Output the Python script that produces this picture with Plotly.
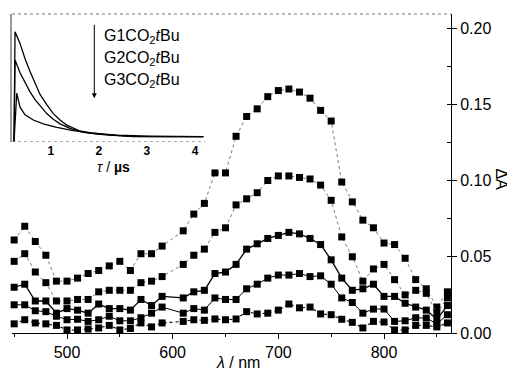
import plotly.graph_objects as go

# ---------------- data ----------------
wavelength = [450, 460, 470, 480, 490, 500, 510, 520, 530, 540, 550, 560, 570, 580, 590,
              610, 620, 630, 640, 650, 660, 670, 680, 690, 700, 710, 720, 730, 740, 750,
              760, 770, 780, 790, 800, 810, 820, 830, 840, 850, 860]

dA_1 = [0.061, 0.070, 0.060, 0.051, 0.034, 0.034, 0.036, 0.039, 0.041, 0.044, 0.047, 0.041, 0.052, 0.052, 0.057,
        0.067, 0.078, 0.085, 0.105, 0.105, 0.129, 0.142, 0.147, 0.155, 0.159, 0.160, 0.158, 0.154, 0.146, 0.139,
        0.099, 0.086, 0.074, 0.069, 0.059, 0.058, 0.049, 0.035, 0.029, 0.017, 0.027]
dA_2 = [0.047, 0.052, 0.040, 0.033, 0.021, 0.021, 0.022, 0.022, 0.027, 0.028, 0.028, 0.028, 0.033, 0.034, 0.037,
        0.045, 0.051, 0.055, 0.066, 0.069, 0.084, 0.088, 0.092, 0.100, 0.103, 0.103, 0.102, 0.101, 0.097, 0.087,
        0.063, 0.050, 0.034, 0.042, 0.045, 0.035, 0.025, 0.028, 0.026, 0.013, 0.023]
dA_3 = [0.030, 0.032, 0.021, 0.021, 0.013, 0.016, 0.015, 0.013, 0.019, 0.016, 0.016, 0.015, 0.022, 0.018, 0.024,
        0.023, 0.027, 0.028, 0.039, 0.040, 0.045, 0.055, 0.0585, 0.062, 0.064, 0.066, 0.065, 0.062, 0.058, 0.048,
        0.036, 0.028, 0.029, 0.032, 0.024, 0.024, 0.0195, 0.017, 0.015, 0.009, 0.018]
dA_4 = [0.0185, 0.0185, 0.0146, 0.014, 0.011, 0.0087, 0.009, 0.0076, 0.0087, 0.011, 0.008, 0.008, 0.010, 0.013, 0.017,
        0.013, 0.016, 0.015, 0.023, 0.022, 0.022, 0.029, 0.032, 0.036, 0.038, 0.038, 0.039, 0.037, 0.0375, 0.032,
        0.023, 0.020, 0.013, 0.0157, 0.0157, 0.0076, 0.008, 0.010, 0.0098, 0.006, 0.012]
dA_5 = [0.006, 0.0087, 0.0066, 0.006, 0.005, 0.002, 0.002, 0.0026, 0.0033, 0.005, 0.002, 0.003, 0.0066, 0.004, 0.0066,
        0.0076, 0.0087, 0.0083, 0.0092, 0.0087, 0.0092, 0.014, 0.0125, 0.013, 0.015, 0.019, 0.0165, 0.017, 0.0125, 0.012,
        0.009, 0.007, 0.0033, 0.0076, 0.0072, 0.002, 0.002, 0.005, 0.005, 0.004, 0.0066]

# inset decay traces (normalised amplitude)
tau_G1 = [0.237, 0.258, 0.362, 0.466, 0.570, 0.674, 0.778, 0.917, 1.054, 1.193, 1.333, 1.609, 1.886, 2.233, 2.717, 3.412, 4.173]
amp_G1 = [0.0, 0.86, 0.77, 0.65, 0.55, 0.46, 0.37, 0.29, 0.22, 0.17, 0.13, 0.084, 0.066, 0.052, 0.039, 0.039, 0.039]
tau_G2 = [0.237, 0.258, 0.362, 0.466, 0.570, 0.674, 0.778, 0.917, 1.054, 1.193, 1.401, 1.678, 2.025, 2.717, 3.412, 4.173]
amp_G2 = [0.0, 0.64, 0.54, 0.46, 0.39, 0.33, 0.28, 0.22, 0.175, 0.14, 0.105, 0.074, 0.058, 0.042, 0.039, 0.039]
tau_G3 = [0.237, 0.293, 0.362, 0.466, 0.638, 0.846, 1.125, 1.470, 1.886, 2.372, 3.065, 4.173]
amp_G3 = [0.0, 0.38, 0.27, 0.21, 0.17, 0.14, 0.113, 0.086, 0.066, 0.052, 0.044, 0.039]

inset_ticks = [1, 2, 3, 4]
inset_labels = ["G1CO<sub>2</sub><i>t</i>Bu", "G2CO<sub>2</sub><i>t</i>Bu", "G3CO<sub>2</sub><i>t</i>Bu"]

FONT = "Liberation Sans, Arial, sans-serif"

fig = go.Figure()

series = [dA_1, dA_2, dA_3, dA_4, dA_5]
line_styles = [
    dict(color="#555555", width=0.8, dash="dot"),
    dict(color="#555555", width=0.8, dash="dot"),
    dict(color="black", width=1.3),
    dict(color="black", width=1.0),
    dict(color="black", width=1.1, dash="dot"),
]
for ys, ls in zip(series, line_styles):
    fig.add_trace(go.Scatter(
        x=wavelength, y=ys, mode="lines+markers",
        line=ls,
        marker=dict(symbol="square", size=7, color="black"),
        xaxis="x", yaxis="y", showlegend=False, cliponaxis=False,
    ))

for t, a in [(tau_G1, amp_G1), (tau_G2, amp_G2), (tau_G3, amp_G3)]:
    fig.add_trace(go.Scatter(
        x=t, y=a, mode="lines", line=dict(color="black", width=1.3),
        xaxis="x2", yaxis="y2", showlegend=False,
    ))

# the page body has an 8px default margin, so the figure is sized/offset to compensate
fig.update_layout(
    width=507, height=371,
    margin=dict(l=4, r=64, t=6, b=46),
    paper_bgcolor="white", plot_bgcolor="white",
    font=dict(family=FONT, size=16, color="black"),
    xaxis=dict(
        domain=[0, 1], range=[447.95, 863.4],
        showline=True, linecolor="black", linewidth=1,
        ticks="outside", ticklen=5, tickwidth=1, tickcolor="black",
        tick0=500, dtick=100,
        minor=dict(tick0=450, dtick=50, ticks="outside", ticklen=3, tickcolor="black"),
        showgrid=False, zeroline=False,
        tickfont=dict(size=16),
    ),
    yaxis=dict(
        domain=[0, 1], range=[0, 0.2092], side="right",
        showline=True, linecolor="black", linewidth=1,
        ticks="outside", ticklen=5, tickwidth=1, tickcolor="black",
        dtick=0.05, tickformat=".2f",
        minor=dict(dtick=0.025, ticks="inside", ticklen=4, tickcolor="black"),
        showgrid=False, zeroline=False,
        tickfont=dict(size=16),
    ),
    xaxis2=dict(
        domain=[0, 0.451], range=[0.195, 4.31], anchor="y2",
        showline=False, showgrid=False, zeroline=False,
        tickvals=inset_ticks, ticktext=["<b>%d</b>" % v for v in inset_ticks],
        ticks="", tickfont=dict(size=12),
    ),
    yaxis2=dict(
        domain=[0.5997, 1], range=[0, 1], anchor="x2",
        showline=True, linecolor="#9a9a9a", linewidth=2,
        showticklabels=False, ticks="", showgrid=False, zeroline=False,
    ),
)

# dashed top border of the main frame and dashed zero line of the inset
fig.add_shape(type="line", xref="paper", yref="paper", x0=0, x1=1, y0=1, y1=1,
              line=dict(color="#777777", width=1, dash="dot"))
fig.add_shape(type="line", xref="x2", yref="y2", x0=0.195, x1=4.21, y0=0, y1=0,
              line=dict(color="#777777", width=1, dash="dot"))

# axis titles
fig.add_annotation(text="<i>λ</i> / nm", xref="paper", yref="paper", x=0.515, y=-0.094,
                   showarrow=False, font=dict(size=16), xanchor="center", yanchor="middle")
fig.add_annotation(text="ΔA", xref="paper", yref="paper", x=1.115, y=0.48, textangle=90,
                   showarrow=False, font=dict(size=16), xanchor="center", yanchor="middle")
fig.add_annotation(text="<i>τ</i> / <b>µs</b>", xref="paper", yref="paper", x=0.232, y=0.521,
                   showarrow=False, font=dict(size=14), xanchor="center", yanchor="middle")

# inset legend labels and arrow
for lab, yy in zip(inset_labels, [0.929, 0.861, 0.793]):
    fig.add_annotation(text=lab, xref="paper", yref="paper", x=0.205, y=yy,
                       showarrow=False, font=dict(size=16), xanchor="left", yanchor="middle")
fig.add_annotation(text="", xref="paper", yref="paper", x=0.1875, y=0.7357,
                   ax=0, ay=-75, showarrow=True, arrowhead=2, arrowsize=1, arrowwidth=1,
                   arrowcolor="black")

fig.write_html("out.html")
